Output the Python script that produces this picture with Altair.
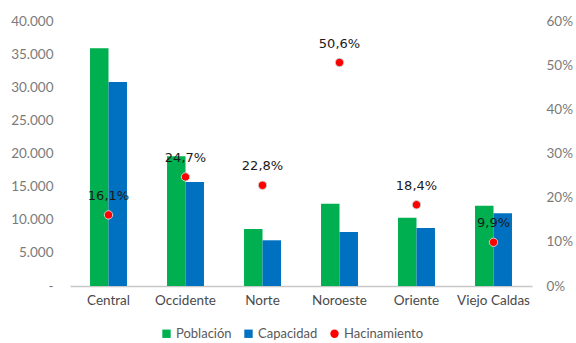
import altair as alt
import pandas as pd

regions = ["Central", "Occidente", "Norte", "Noroeste", "Oriente", "Viejo Caldas"]
poblacion = [35900, 19600, 8600, 12400, 10300, 12100]
capacidad = [30800, 15700, 6900, 8150, 8750, 11000]
hacinamiento = [0.161, 0.247, 0.228, 0.506, 0.184, 0.099]

series_names = ["Población", "Capacidad", "Hacinamiento"]
series_colors = ["#00b050", "#0070c0", "#ff0000"]
series_shapes = ["square", "square", "circle"]

bars_df = pd.DataFrame(
    [{"region": r, "serie": "Población", "valor": v} for r, v in zip(regions, poblacion)]
    + [{"region": r, "serie": "Capacidad", "valor": v} for r, v in zip(regions, capacidad)]
)
pts_df = pd.DataFrame({"region": regions, "h": hacinamiento, "serie": "Hacinamiento"})

AXIS_FONT = "Lato"
x_enc = alt.X(
    "region:N",
    sort=regions,
    scale=alt.Scale(paddingInner=0.52, paddingOuter=0.26),
    axis=alt.Axis(
        title=None, labelAngle=0, ticks=False, domainColor="#c8c8c8", domainWidth=1.5,
        labelColor="#4a4a4a", labelFontSize=13.5, labelFont=AXIS_FONT, labelPadding=7,
    ),
)

color_enc = alt.Color(
    "serie:N",
    scale=alt.Scale(domain=series_names, range=series_colors),
    legend=alt.Legend(
        title=None, orient="none", direction="horizontal", legendX=90, legendY=306,
        labelFont=AXIS_FONT, labelFontSize=13, labelColor="#595959", symbolSize=70,
        columnPadding=10, labelOffset=3, symbolStrokeColor="#d0d0d0", symbolStrokeWidth=0,
    ),
)

bars = alt.Chart(bars_df).mark_bar().encode(
    x=x_enc,
    xOffset=alt.XOffset("serie:N", sort=["Población", "Capacidad"]),
    y=alt.Y(
        "valor:Q",
        scale=alt.Scale(domain=[0, 40000]),
        axis=alt.Axis(
            title=None, orient="left", values=[0, 5000, 10000, 15000, 20000, 25000, 30000, 35000, 40000],
            labelExpr="datum.value == 0 ? '-\u00a0\u00a0\u00a0' : replace(format(datum.value, ',.0f'), ',', '.')",
            grid=False, ticks=False, domain=False, labelPadding=17,
            labelColor="#7a7a7a", labelFontSize=13.5, labelFont=AXIS_FONT,
        ),
    ),
    color=color_enc,
)

y_right = alt.Y(
    "h:Q",
    scale=alt.Scale(domain=[0, 0.6]),
    axis=alt.Axis(
        title=None, orient="right", format=".0%", values=[0, 0.1, 0.2, 0.3, 0.4, 0.5, 0.6],
        grid=False, ticks=False, domain=False, labelPadding=14,
        labelColor="#7a7a7a", labelFontSize=13.5, labelFont=AXIS_FONT,
    ),
)

points = alt.Chart(pts_df).mark_point(filled=True, size=70, stroke="#d0d0d0", strokeWidth=1, opacity=1).encode(
    x=x_enc,
    y=y_right,
    color=color_enc,
    shape=alt.Shape("serie:N", scale=alt.Scale(domain=series_names, range=series_shapes), legend=None),
)

text = alt.Chart(pts_df).transform_calculate(
    lbl="replace(format(datum.h, '.1%'), '.', ',')"
).mark_text(dy=-19, fontSize=13, font="DejaVu Sans", color="#1a1a1a").encode(
    x=x_enc,
    y=y_right,
    text="lbl:N",
)

right = alt.layer(points, text)

chart = alt.layer(bars, right).resolve_scale(y="independent").properties(
    width=462,
    height=265,
    autosize=alt.AutoSizeParams(type="none"),
    padding={"left": 70, "top": 21, "right": 44, "bottom": 57},
).configure_view(stroke=None)

chart.save("out.html", embed_options={"renderer": "svg", "actions": False})
